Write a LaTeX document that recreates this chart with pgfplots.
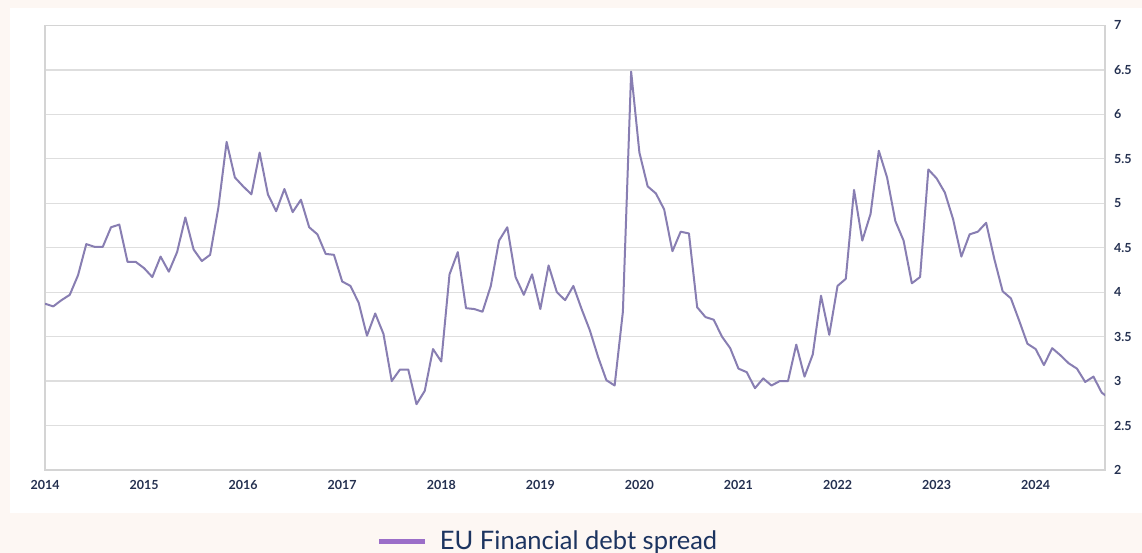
\documentclass[border=0pt]{standalone}
\usepackage{pgfplots}
\pgfplotsset{compat=1.18}
\usepackage{fontspec}
\setmainfont{Lato}
\definecolor{bgpeach}{RGB}{253,247,243}
\definecolor{seriescol}{RGB}{136,126,178}
\definecolor{swatch}{RGB}{155,110,200}
\definecolor{ticknavy}{RGB}{36,48,80}
\definecolor{legnavy}{RGB}{28,52,96}
\definecolor{gridgray}{RGB}{222,222,222}
\definecolor{framegray}{RGB}{212,212,212}

\begin{document}
\begin{tikzpicture}
\useasboundingbox (0pt,0pt) rectangle (1142pt,553pt);
\fill[bgpeach] (0pt,0pt) rectangle (1142pt,553pt);
\fill[white] (10pt,40pt) rectangle (1142pt,545pt);
\begin{axis}[
  at={(45pt,83pt)}, anchor=south west,
  scale only axis, width=1060pt, height=444.6pt,
  xmin=0, xmax=128.4, ymin=2, ymax=7,
  xtick={0,12,24,36,48,60,72,84,96,108,120},
  xticklabels={2014,2015,2016,2017,2018,2019,2020,2021,2022,2023,2024},
  ytick={2,2.5,3,3.5,4,4.5,5,5.5,6,6.5,7},
  yticklabels={2,2.5,3,3.5,4,4.5,5,5.5,6,6.5,7},
  yticklabel pos=right,
  ymajorgrids, grid style={gridgray, line width=1.3pt},
  major tick length=0pt,
  axis line style={framegray, line width=1.3pt},
  tick label style={font=\bfseries\fontsize{12.5}{12.5}\selectfont, text=ticknavy},
  xticklabel style={anchor=north, inner sep=0pt, yshift=-10pt},
  yticklabel style={anchor=west, inner sep=0pt, xshift=9pt},
  legend style={at={(0.313,-0.16)}, anchor=west, draw=none, fill=none,
    font=\fontsize{25.5}{25.5}\selectfont, text=legnavy, inner sep=0pt,
    nodes={inner sep=0pt}},
  legend image code/.code={\draw[swatch, line width=5pt] (0pt,0pt) -- (46pt,0pt);},
]
\addplot[seriescol, line width=2pt, line join=round] coordinates {
(0,3.87) (1,3.84) (2,3.91) (3,3.97) (4,4.19) (5,4.54) (6,4.51) (7,4.51)
(8,4.73) (9,4.76) (10,4.34) (11,4.34)
(12,4.27) (13,4.17) (14,4.40) (15,4.23) (16,4.45) (17,4.84) (18,4.48) (19,4.35)
(20,4.42) (21,4.95) (22,5.69) (23,5.29)
(24,5.19) (25,5.10) (26,5.57) (27,5.10) (28,4.91) (29,5.16) (30,4.90) (31,5.04)
(32,4.73) (33,4.65) (34,4.43) (35,4.42)
(36,4.12) (37,4.07) (38,3.88) (39,3.51) (40,3.76) (41,3.53) (42,3.00) (43,3.13)
(44,3.13) (45,2.74) (46,2.89) (47,3.36)
(48,3.22) (49,4.20) (50,4.45) (51,3.82) (52,3.81) (53,3.78) (54,4.07) (55,4.58)
(56,4.73) (57,4.17) (58,3.97) (59,4.20)
(60,3.81) (61,4.30) (62,4.00) (63,3.91) (64,4.07) (65,3.81) (66,3.57) (67,3.27)
(68,3.01) (69,2.95) (70,3.78) (71,6.48)
(72,5.57) (73,5.19) (74,5.11) (75,4.93) (76,4.46) (77,4.68) (78,4.66) (79,3.83)
(80,3.72) (81,3.69) (82,3.50) (83,3.37)
(84,3.14) (85,3.10) (86,2.92) (87,3.03) (88,2.95) (89,3.00) (90,3.00) (91,3.41)
(92,3.05) (93,3.30) (94,3.96) (95,3.52)
(96,4.07) (97,4.15) (98,5.15) (99,4.58) (100,4.88) (101,5.59) (102,5.29) (103,4.80)
(104,4.58) (105,4.10) (106,4.17) (107,5.38)
(108,5.28) (109,5.12) (110,4.82) (111,4.40) (112,4.65) (113,4.68) (114,4.78) (115,4.37)
(116,4.01) (117,3.93) (118,3.68) (119,3.42)
(120,3.36) (121,3.18) (122,3.37) (123,3.29) (124,3.20) (125,3.14) (126,2.99) (127,3.05)
(128,2.87) (129,2.80)
};
\addlegendentry{\hspace{12pt}EU Financial debt spread}
\end{axis}
\end{tikzpicture}
\end{document}
